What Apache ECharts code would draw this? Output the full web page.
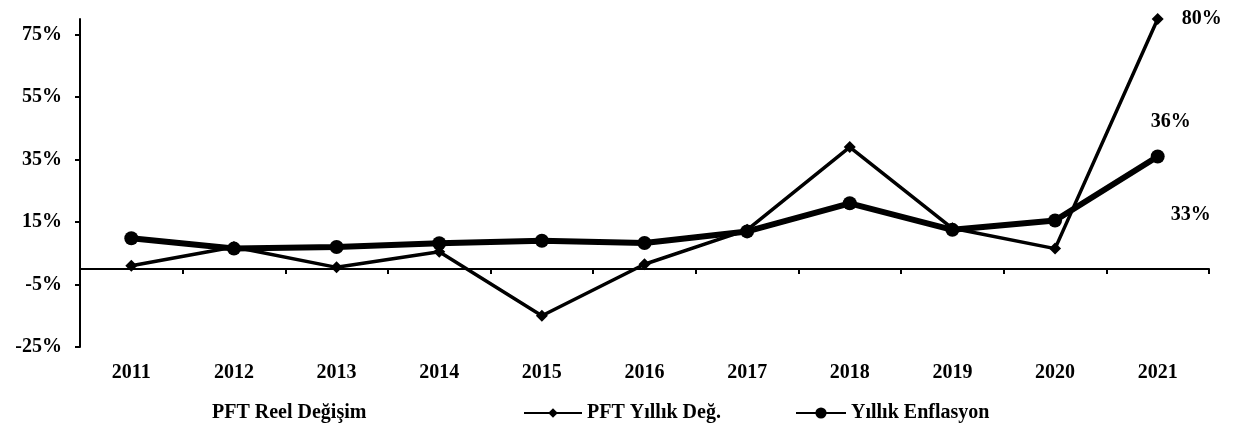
<!DOCTYPE html>
<html>
<head>
<meta charset="utf-8">
<script src="https://cdn.jsdelivr.net/npm/echarts@6/dist/echarts.min.js"></script>
<style>
  html, body { margin: 0; padding: 0; background: #fff; }
  #chart { width: 1237px; height: 446px; }
</style>
</head>
<body>
<div id="chart"></div>
<script>
// 年份
const years = ["2011", "2012", "2013", "2014", "2015", "2016", "2017", "2018", "2019", "2020", "2021"];
// PFT yıllık değişim (%), okunan değerler
const pftYillik = [1, 7, 0.5, 5.5, -15, 1.5, 12.5, 39, 13, 6.5, 80];
// Yıllık enflasyon (%)
const enflasyon = [9.8, 6.5, 7, 8.2, 9, 8.3, 12, 21, 12.5, 15.5, 36];
// PFT reel değişim: grafikte sadece 2021 etiketi görünüyor
const pftReel = [null, null, null, null, null, null, null, null, null, null, 33];

const FONT = "Liberation Serif";
const txt = { fontFamily: FONT, fontWeight: "bold", fontSize: 20, color: "#000" };

const chart = echarts.init(document.getElementById("chart"));

chart.setOption({
  backgroundColor: "#fff",
  animation: false,
  grid: { left: 80, right: 28, top: 19, bottom: 99, outerBoundsMode: "none", containLabel: false },
  legend: [
    {
      data: [{ name: "PFT Reel Değişim", icon: "rect", itemStyle: { opacity: 0 } }],
      left: 200, top: 398, itemWidth: 2, itemHeight: 2,
      textStyle: txt, selectedMode: false
    },
    {
      data: ["PFT Yıllık Değ."],
      left: 518, top: 398, itemWidth: 58, itemHeight: 12,
      textStyle: txt, selectedMode: false
    },
    {
      data: ["Yıllık Enflasyon"],
      left: 790, top: 398, itemWidth: 50, itemHeight: 14,
      textStyle: txt, selectedMode: false
    }
  ],
  xAxis: {
    type: "category",
    data: years,
    boundaryGap: true,
    axisLine: { onZero: true, lineStyle: { color: "#000", width: 2 } },
    axisTick: { show: true, length: 5, lineStyle: { color: "#000", width: 2 } },
    axisLabel: Object.assign({ margin: 16 }, txt),
    splitLine: { show: false }
  },
  yAxis: {
    type: "value",
    min: -25,
    max: 80,
    interval: 20,
    axisLine: { show: true, lineStyle: { color: "#000", width: 2 } },
    axisTick: { show: true, length: 5, lineStyle: { color: "#000", width: 2 } },
    axisLabel: Object.assign({ margin: 18, showMaxLabel: false, formatter: "{value}%" }, txt),
    splitLine: { show: false }
  },
  series: [
    {
      name: "PFT Reel Değişim",
      type: "line",
      data: pftReel,
      symbol: "circle",
      symbolSize: 1,
      lineStyle: { opacity: 0 },
      itemStyle: { color: "rgba(0,0,0,0)" },
      label: {
        show: true, position: "inside", offset: [33, 49],
        formatter: "{c}%", fontFamily: FONT, fontWeight: "bold", fontSize: 20, color: "#000"
      },
      z: 1
    },
    {
      name: "PFT Yıllık Değ.",
      type: "line",
      data: pftYillik,
      symbol: "diamond",
      symbolSize: 12,
      lineStyle: { color: "#000", width: 3.5 },
      itemStyle: { color: "#000" },
      label: {
        show: true, position: "right", distance: 18,
        formatter: function (p) { return p.dataIndex === years.length - 1 ? p.value + "%" : ""; },
        fontFamily: FONT, fontWeight: "bold", fontSize: 20, color: "#000"
      },
      z: 3
    },
    {
      name: "Yıllık Enflasyon",
      type: "line",
      data: enflasyon,
      symbol: "circle",
      symbolSize: 14,
      lineStyle: { color: "#000", width: 6 },
      itemStyle: { color: "#000" },
      label: {
        show: true, position: "top", distance: 18, offset: [13, 0],
        formatter: function (p) { return p.dataIndex === years.length - 1 ? p.value + "%" : ""; },
        fontFamily: FONT, fontWeight: "bold", fontSize: 20, color: "#000"
      },
      z: 2
    }
  ]
});
</script>
</body>
</html>
